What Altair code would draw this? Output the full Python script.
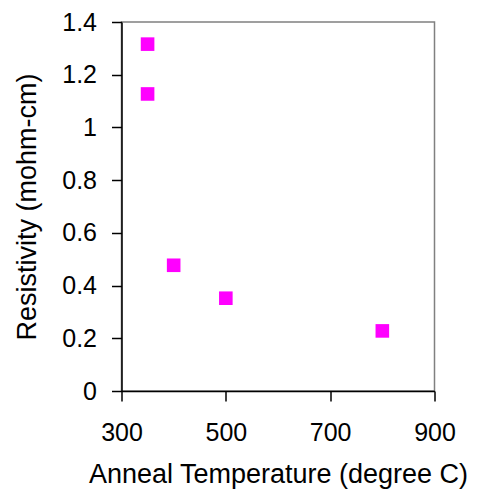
import altair as alt
import pandas as pd

temps = [350, 350, 400, 500, 800]
resist = [1.316, 1.127, 0.477, 0.352, 0.228]

df = pd.DataFrame({"temp": temps, "res": resist})

chart = alt.Chart(df).mark_square(size=185, color="#FF00FF", opacity=1).encode(
    x=alt.X("temp:Q", title="Anneal Temperature (degree C)",
            scale=alt.Scale(domain=[300, 900], nice=False, zero=False),
            axis=alt.Axis(values=[300, 500, 700, 900], grid=False, tickSize=10,
                          labelPadding=19, titlePadding=16, format="d")),
    y=alt.Y("res:Q", title="Resistivity (mohm-cm)",
            scale=alt.Scale(domain=[0, 1.4], nice=False),
            axis=alt.Axis(values=[0, 0.2, 0.4, 0.6, 0.8, 1, 1.2, 1.4], grid=False,
                          tickSize=10, labelPadding=15, titlePadding=20, format="~g")),
).properties(
    width=313, height=369,
    autosize=alt.AutoSizeParams(type="none"),
    padding={"left": 113.5, "top": 14, "right": 37, "bottom": 104},
).configure_view(
    stroke="#808080", strokeWidth=1.5
).configure_axis(
    domainColor="black", tickColor="black", domainWidth=1.5, tickWidth=1.5,
    labelFont="Liberation Sans", titleFont="Liberation Sans",
    labelFontSize=25, titleFontSize=27, labelColor="black", titleColor="black",
    titleFontWeight="normal", labelFlush=False, labelOverlap=False
)

chart.save("out.html", embed_options={"renderer": "svg", "actions": False})
